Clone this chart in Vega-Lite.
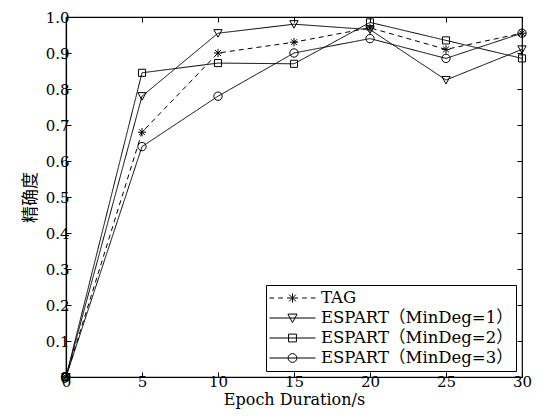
{
  "$schema": "https://vega.github.io/schema/vega-lite/v6.json",
  "width": 456,
  "height": 360,
  "autosize": {"type": "none"},
  "padding": {"left": 66, "top": 17, "right": 21, "bottom": 39},
  "background": "white",
  "config": {
    "font": "DejaVu Serif",
    "view": {"stroke": "black", "strokeWidth": 1.2},
    "axis": {"grid": false, "domainColor": "black", "tickColor": "black", "labelColor": "black", "titleColor": "black", "labelFont": "DejaVu Serif", "titleFont": "DejaVu Serif", "labelFontSize": 15, "titleFontSize": 16, "titleFontWeight": "normal", "tickSize": -5, "domainWidth": 1.2, "tickWidth": 1},
    "legend": {"labelFont": "DejaVu Serif, Noto Sans CJK SC"}
  },
  "data": {"values": [
    {"x": 0, "y": 0, "s": "TAG"}, {"x": 5, "y": 0.68, "s": "TAG"}, {"x": 10, "y": 0.90, "s": "TAG"}, {"x": 15, "y": 0.93, "s": "TAG"}, {"x": 20, "y": 0.97, "s": "TAG"}, {"x": 25, "y": 0.91, "s": "TAG"}, {"x": 30, "y": 0.955, "s": "TAG"},
    {"x": 0, "y": 0, "s": "ESPART（MinDeg=1）"}, {"x": 5, "y": 0.78, "s": "ESPART（MinDeg=1）"}, {"x": 10, "y": 0.955, "s": "ESPART（MinDeg=1）"}, {"x": 15, "y": 0.98, "s": "ESPART（MinDeg=1）"}, {"x": 20, "y": 0.965, "s": "ESPART（MinDeg=1）"}, {"x": 25, "y": 0.825, "s": "ESPART（MinDeg=1）"}, {"x": 30, "y": 0.91, "s": "ESPART（MinDeg=1）"},
    {"x": 0, "y": 0, "s": "ESPART（MinDeg=2）"}, {"x": 5, "y": 0.845, "s": "ESPART（MinDeg=2）"}, {"x": 10, "y": 0.872, "s": "ESPART（MinDeg=2）"}, {"x": 15, "y": 0.87, "s": "ESPART（MinDeg=2）"}, {"x": 20, "y": 0.985, "s": "ESPART（MinDeg=2）"}, {"x": 25, "y": 0.935, "s": "ESPART（MinDeg=2）"}, {"x": 30, "y": 0.885, "s": "ESPART（MinDeg=2）"},
    {"x": 0, "y": 0, "s": "ESPART（MinDeg=3）"}, {"x": 5, "y": 0.64, "s": "ESPART（MinDeg=3）"}, {"x": 10, "y": 0.78, "s": "ESPART（MinDeg=3）"}, {"x": 15, "y": 0.90, "s": "ESPART（MinDeg=3）"}, {"x": 20, "y": 0.94, "s": "ESPART（MinDeg=3）"}, {"x": 25, "y": 0.885, "s": "ESPART（MinDeg=3）"}, {"x": 30, "y": 0.955, "s": "ESPART（MinDeg=3）"}
  ]},
  "resolve": {"axis": {"x": "independent", "y": "independent"}, "scale": {"shape": "independent"}, "legend": {"shape": "independent"}},
  "layer": [
    {
      "mark": {"type": "line", "color": "black", "strokeWidth": 1},
      "encoding": {
        "x": {"field": "x", "type": "quantitative", "scale": {"domain": [0, 30], "nice": false}, "axis": {"values": [0, 5, 10, 15, 20, 25, 30], "title": "Epoch Duration/s", "labelPadding": 2, "titlePadding": 2, "labelFlush": false}},
        "y": {"field": "y", "type": "quantitative", "scale": {"domain": [0, 1], "nice": false}, "axis": {"values": [0, 0.1, 0.2, 0.3, 0.4, 0.5, 0.6, 0.7, 0.8, 0.9, 1.0], "labelExpr": "datum.value == 0 ? '0' : format(datum.value, '.1f')", "title": "精确度", "titleFont": "Noto Sans CJK SC", "titleFontSize": 17, "labelPadding": 2, "titlePadding": 6, "labelFlush": false}},
        "detail": {"field": "s"},
        "strokeDash": {"field": "s", "type": "nominal", "scale": {"domain": ["TAG", "ESPART（MinDeg=1）", "ESPART（MinDeg=2）", "ESPART（MinDeg=3）"], "range": [[5, 4], [1, 0], [1, 0], [1, 0]]}, "legend": null},
        "order": {"field": "x"}
      }
    },
    {
      "mark": {"type": "point", "filled": false, "color": "black", "strokeWidth": 1, "size": 70, "opacity": 1},
      "encoding": {
        "x": {"field": "x", "type": "quantitative", "axis": null},
        "y": {"field": "y", "type": "quantitative", "axis": null},
        "shape": {"field": "s", "type": "nominal", "scale": {"domain": ["TAG", "ESPART（MinDeg=1）", "ESPART（MinDeg=2）", "ESPART（MinDeg=3）"], "range": ["M-1,0L1,0M0,-1L0,1M-0.7,-0.7L0.7,0.7M-0.7,0.7L0.7,-0.7", "M-1,-0.85L1,-0.85L0,0.95Z", "M-0.85,-0.85L0.85,-0.85L0.85,0.85L-0.85,0.85Z", "M-1,0A1,1,0,1,1,1,0A1,1,0,1,1,-1,0Z"]}, "legend": null}
      }
    },
    {
      "transform": [{"filter": "datum.x < 0"}],
      "mark": {"type": "point", "filled": false, "color": "black", "strokeWidth": 1, "size": 2116},
      "encoding": {
        "x": {"field": "x", "type": "quantitative", "axis": {"orient": "top", "labels": false, "title": null, "values": [0, 5, 10, 15, 20, 25, 30], "domain": false}},
        "y": {"field": "y", "type": "quantitative", "axis": {"orient": "right", "labels": false, "title": null, "values": [0, 0.1, 0.2, 0.3, 0.4, 0.5, 0.6, 0.7, 0.8, 0.9, 1.0], "domain": false}},
        "shape": {"field": "s", "type": "nominal", "scale": {"domain": ["TAG", "ESPART（MinDeg=1）", "ESPART（MinDeg=2）", "ESPART（MinDeg=3）"], "range": [
          "M-1,0L-0.8,0M-0.62,0L-0.42,0M-0.24,0L0.24,0M0.42,0L0.62,0M0.8,0L1,0M0,-0.2L0,0.2M-0.15,-0.15L0.15,0.15M-0.15,0.15L0.15,-0.15",
          "M-1,0L1,0M-0.2,-0.17L0.2,-0.17L0,0.2Z",
          "M-1,0L1,0M-0.17,-0.17L0.17,-0.17L0.17,0.17L-0.17,0.17Z",
          "M-1,0L1,0M-0.19,0A0.19,0.19,0,1,1,0.19,0A0.19,0.19,0,1,1,-0.19,0Z"
        ]}, "legend": {"title": null, "orient": "bottom-right", "offset": 6, "strokeColor": "black", "fillColor": "white", "padding": 3, "labelFontSize": 16.5, "labelColor": "black", "labelOffset": 5, "clipHeight": 20, "symbolSize": 2116, "symbolStrokeColor": "black", "symbolFillColor": "transparent", "symbolStrokeWidth": 1, "symbolOpacity": 1, "rowPadding": 0, "labelLimit": 300}}
      }
    }
  ]
}
